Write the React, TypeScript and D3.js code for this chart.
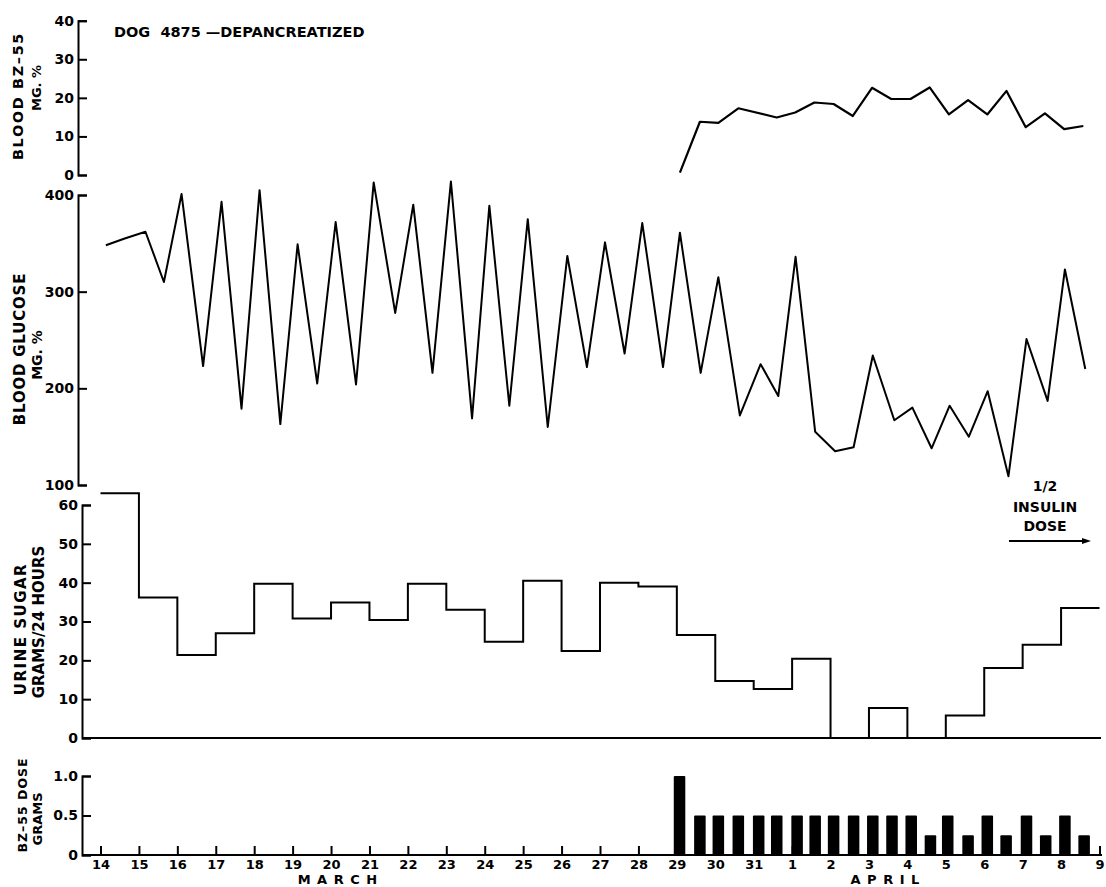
import { useEffect, useRef } from 'react';
import * as d3 from 'd3';

// x axis: days since March 14 (0 = Mar 14, 26 = Apr 9)
const dayLabels = [
    '14', '15', '16', '17', '18', '19', '20', '21', '22', '23', '24', '25', '26',
    '27', '28', '29', '30', '31', '1', '2', '3', '4', '5', '6', '7', '8', '9',
];

const months = [
    { label: 'MARCH', day: 6.25 },
    { label: 'APRIL', day: 20.5 },
];

// blood BZ-55, mg %
const bzDays = [
    15.08, 15.6, 16.08, 16.6, 17.6, 18.08, 18.58, 19.08, 19.58, 20.08, 20.58,
    21.08, 21.58, 22.08, 22.58, 23.08, 23.58, 24.08, 24.58, 25.08, 25.58,
];
const bzValues = [
    0.6, 13.8, 13.5, 17.3, 14.9, 16.2, 18.8, 18.4, 15.3, 22.6, 19.7,
    19.7, 22.7, 15.7, 19.4, 15.7, 21.8, 12.4, 16.0, 11.9, 12.7,
];

// blood glucose, mg %
const glucoseDays = [
    0.14, 0.63, 1.17, 1.65, 2.11, 2.67, 3.15, 3.67, 4.14, 4.68, 5.13, 5.64, 6.12,
    6.65, 7.11, 7.67, 8.14, 8.64, 9.12, 9.67, 10.12, 10.64, 11.12, 11.64, 12.15,
    12.66, 13.13, 13.64, 14.1, 14.64, 15.08, 15.62, 16.08, 16.64, 17.18, 17.64,
    18.09, 18.6, 19.12, 19.6, 20.1, 20.66, 21.13, 21.63, 22.1, 22.6, 23.09,
    23.63, 24.1, 24.65, 25.1, 25.63,
];
const glucoseValues = [
    348, 355, 362, 310, 401, 223, 393, 179, 405, 163, 349, 205, 372,
    204, 413, 278, 390, 216, 414, 169, 389, 182, 375, 160, 337,
    222, 351, 236, 371, 222, 361, 216, 315, 172, 225, 192,
    336, 155, 135, 139, 234, 167, 180, 138, 182, 150, 197,
    109, 251, 187, 323, 220,
];

// urine sugar, grams / 24 hours, one value per day
const urineValues = [
    63, 36.2, 21.4, 27, 39.7, 30.8, 34.9, 30.4, 39.7, 33, 24.8, 40.5, 22.4,
    40, 39, 26.5, 14.7, 12.6, 20.4, 0, 7.7, 0, 5.8, 18, 24, 33.5,
];

// BZ-55 dose, grams
const doseDays = [
    15.07, 15.6, 16.08, 16.6, 17.13, 17.6, 18.13, 18.6, 19.08, 19.6, 20.1,
    20.6, 21.1, 21.6, 22.05, 22.58, 23.08, 23.57, 24.1, 24.6, 25.1, 25.6,
];
const doseValues = [
    1.0, 0.5, 0.5, 0.5, 0.5, 0.5, 0.5, 0.5, 0.5, 0.5, 0.5,
    0.5, 0.5, 0.25, 0.5, 0.25, 0.5, 0.25, 0.5, 0.25, 0.5, 0.25,
];

const WIDTH = 1106;
const HEIGHT = 887;
const FONT = "'DejaVu Sans', 'Liberation Sans', sans-serif";

const x = d3.scaleLinear().domain([0, 26]).range([100.5, 1099.5]);
const bzY = d3.scaleLinear().domain([0, 40]).range([175, 20.7]);
const glucoseY = d3.scaleLinear().domain([100, 400]).range([485, 195]);
const urineY = d3.scaleLinear().domain([0, 60]).range([738, 505]);
const doseY = d3.scaleLinear().domain([0, 1]).range([855, 776]);

interface YAxisProps {
    left: number;
    scale: d3.ScaleLinear<number, number>;
    tickValues: number[];
    format: (d: number) => string;
}

function YAxis(props: YAxisProps) {
    const { left, scale, tickValues, format } = props;
    const el = useRef<SVGGElement>(null);

    useEffect(() => {
        if (!el.current) return;
        d3.select(el.current)
            .call(
                d3
                    .axisLeft(scale)
                    .tickValues(tickValues)
                    .tickFormat((d) => format(d as number))
                    .tickSize(-9)
                    .tickSizeOuter(-9)
                    .tickPadding(4)
            )
            .call((g) => g.attr('font-family', FONT).attr('font-size', 14))
            .call((g) => g.selectAll('.domain').attr('stroke-width', 2))
            .call((g) => g.selectAll('.tick line').attr('stroke-width', 2))
            .call((g) =>
                g.selectAll('.tick text').attr('font-weight', 'bold').attr('fill', '#000')
            );
    }, [scale, tickValues, format]);

    return <g ref={el} transform={`translate(${left}, 0)`} />;
}

function XAxis() {
    const el = useRef<SVGGElement>(null);
    useEffect(() => {
        if (!el.current) return;
        d3.select(el.current)
            .call(
                d3
                    .axisBottom(x)
                    .tickValues(d3.range(dayLabels.length))
                    .tickFormat((d) => dayLabels[d as number])
                    .tickSize(-9)
                    .tickPadding(4.3)
            )
            .call((g) => g.select('.domain').remove())
            .call((g) => g.attr('font-family', FONT).attr('font-size', 13))
            .call((g) => g.selectAll('.tick line').attr('stroke-width', 2))
            .call((g) =>
                g.selectAll('.tick text').attr('font-weight', 'bold').attr('fill', '#000')
            );
    }, []);
    return <g ref={el} transform={`translate(0, ${doseY(0)})`} />;
}

function Title(props: { x: number; y: number; size: number; children: string; spacing?: number }) {
    const { x: cx, y: cy, size, children, spacing = 0 } = props;
    return (
        <text
            transform={`translate(${cx}, ${cy}) rotate(-90)`}
            textAnchor="middle"
            dominantBaseline="central"
            fontSize={size}
            fontWeight="bold"
            letterSpacing={spacing}
        >
            {children}
        </text>
    );
}

const fmtInt = (d: number) => String(d);
const fmtDose = (d: number) => (d === 0 ? '0' : d.toFixed(1));

export default function App() {
    const bzLine = d3
        .line<number>()
        .x((_, i) => x(bzDays[i]))
        .y((d) => bzY(d));
    const glucoseLine = d3
        .line<number>()
        .x((_, i) => x(glucoseDays[i]))
        .y((d) => glucoseY(d));
    const urinePoints: [number, number][] = urineValues.map((v, i) => [i, v]);
    urinePoints.push([urineValues.length, urineValues[urineValues.length - 1]]);
    const urineLine = d3
        .line<[number, number]>()
        .x((d) => x(d[0]))
        .y((d) => urineY(d[1]))
        .curve(d3.curveStepAfter);
    const barHalf = 0.15;

    return (
        <svg
            width={WIDTH}
            height={HEIGHT}
            viewBox={`0 0 ${WIDTH} ${HEIGHT}`}
            style={{ position: 'absolute', left: 0, top: 0, background: '#fff' }}
            fontFamily={FONT}
        >
            <rect width={WIDTH} height={HEIGHT} fill="#fff" />

            <text x={114} y={36.5} fontSize={14.5} fontWeight="bold">
                DOG{'\u00a0\u00a0'}4875 —DEPANCREATIZED
            </text>

            {/* axis titles */}
            <Title x={18} y={96} size={14.5} spacing={1.6}>BLOOD{'\u00a0'}BZ–55</Title>
            <Title x={36} y={88} size={13}>MG. %</Title>
            <Title x={20} y={349} size={15} spacing={0.8}>BLOOD GLUCOSE</Title>
            <Title x={37} y={355} size={14}>MG. %</Title>
            <Title x={21} y={629} size={15} spacing={1.5}>URINE SUGAR</Title>
            <Title x={39} y={622} size={15}>GRAMS/24 HOURS</Title>
            <Title x={22} y={805} size={12.5} spacing={1}>BZ–55 DOSE</Title>
            <Title x={37.5} y={819} size={13}>GRAMS</Title>

            <YAxis left={78} scale={bzY} tickValues={[0, 10, 20, 30, 40]} format={fmtInt} />
            <YAxis
                left={78}
                scale={glucoseY}
                tickValues={[100, 200, 300, 400]}
                format={fmtInt}
            />
            <YAxis
                left={82}
                scale={urineY}
                tickValues={[0, 10, 20, 30, 40, 50, 60]}
                format={fmtInt}
            />
            <YAxis left={82} scale={doseY} tickValues={[0, 0.5, 1]} format={fmtDose} />

            {/* baselines */}
            <line x1={82} x2={1101} y1={urineY(0)} y2={urineY(0)} stroke="#000" strokeWidth={2} />
            <line x1={82} x2={1102} y1={doseY(0)} y2={doseY(0)} stroke="#000" strokeWidth={2} />
            <XAxis />

            {/* series */}
            <path
                d={bzLine(bzValues) || ''}
                fill="none"
                stroke="#000"
                strokeWidth={2.2}
                strokeLinejoin="round"
            />
            <path
                d={glucoseLine(glucoseValues) || ''}
                fill="none"
                stroke="#000"
                strokeWidth={2}
                strokeLinejoin="round"
            />
            <path
                d={urineLine(urinePoints) || ''}
                fill="none"
                stroke="#000"
                strokeWidth={2}
            />
            {doseValues.map((v, i) => (
                <rect
                    key={i}
                    x={x(doseDays[i] - barHalf)}
                    width={x(doseDays[i] + barHalf) - x(doseDays[i] - barHalf)}
                    y={doseY(v)}
                    height={doseY(0) - doseY(v)}
                    fill="#000"
                    rx={1}
                />
            ))}

            {/* month labels */}
            {months.map((m) => (
                <text
                    key={m.label}
                    x={x(m.day)}
                    y={884}
                    textAnchor="middle"
                    fontSize={13}
                    fontWeight="bold"
                    letterSpacing={6.5}
                >
                    {m.label}
                </text>
            ))}

            {/* insulin annotation */}
            <g fontSize={14} fontWeight="bold" textAnchor="middle">
                <text x={1045} y={491}>1/2</text>
                <text x={1045} y={512}>INSULIN</text>
                <text x={1045} y={531}>DOSE</text>
            </g>
            <line x1={1009} x2={1086} y1={541} y2={541} stroke="#000" strokeWidth={2} />
            <path d="M1082,538 L1091,541 L1082,544 Z" fill="#000" />
        </svg>
    );
}
